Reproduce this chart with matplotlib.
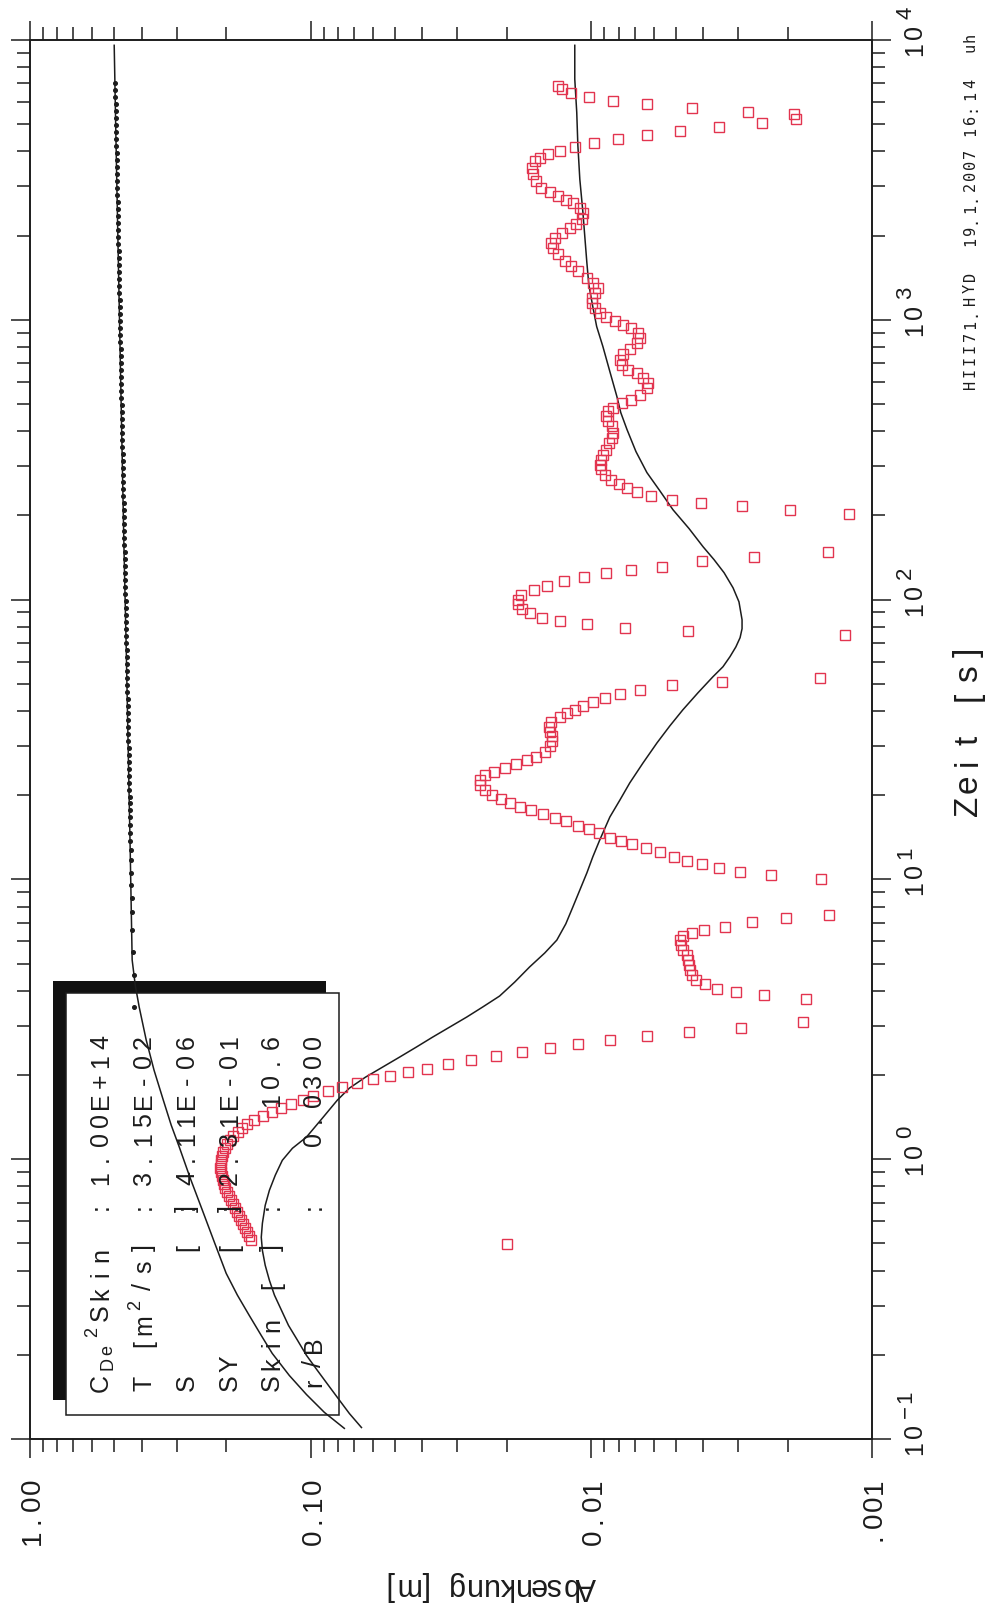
import matplotlib
matplotlib.use("Agg")
import matplotlib.pyplot as plt
import numpy as np
from matplotlib.transforms import IdentityTransform
from matplotlib.patches import Rectangle

W, H = 997, 1611
RED = "#e2344f"
INK = "#1c1c1c"
FONT = ["Liberation Sans", "DejaVu Sans"]
MONO = ["DejaVu Sans Mono"]

# ---- measured drawdown (red squares), log10 of time [s] / drawdown [m]
red_log_t = [
    -0.304,
    # first dip
    -0.290, -0.275, -0.261, -0.247, -0.233, -0.218, -0.204, -0.190, -0.175, -0.161,
    -0.147, -0.132, -0.118, -0.104, -0.089, -0.075, -0.061, -0.047, -0.032, -0.018,
    -0.004, 0.011, 0.025, 0.039, 0.054, 0.068, 0.082, 0.097, 0.111, 0.125, 0.140,
    0.154, 0.168, 0.184, 0.199, 0.213, 0.227, 0.243, 0.258, 0.271, 0.285, 0.298,
    0.311, 0.324, 0.339, 0.353, 0.368, 0.384, 0.398, 0.411, 0.426, 0.440, 0.455,
    0.470, 0.489,
    # 4..8 s
    0.572, 0.586, 0.597, 0.609, 0.625, 0.640, 0.658, 0.676, 0.694, 0.712, 0.730,
    0.748, 0.765, 0.783, 0.796, 0.807, 0.819, 0.831, 0.847, 0.861, 0.874,
    # 10..50 s
    1.000, 1.016, 1.028, 1.040, 1.055, 1.067, 1.081, 1.099, 1.112, 1.125, 1.137,
    1.148, 1.165, 1.179, 1.192, 1.207, 1.220, 1.233, 1.248, 1.260, 1.274, 1.288,
    1.302, 1.320, 1.338, 1.356, 1.374, 1.385, 1.398, 1.413, 1.427, 1.439, 1.457,
    1.475, 1.493, 1.511, 1.528, 1.546, 1.564, 1.582, 1.594, 1.606, 1.620, 1.634,
    1.650, 1.663, 1.678, 1.693, 1.705, 1.719,
    # 75..150 s
    1.874, 1.886, 1.898, 1.913, 1.925, 1.936, 1.952, 1.966, 1.984, 2.000, 2.017,
    2.033, 2.050, 2.065, 2.081, 2.094, 2.107, 2.118, 2.137, 2.151, 2.169,
    # 200..7000 s
    2.307, 2.319, 2.333, 2.345, 2.357, 2.372, 2.385, 2.399, 2.413, 2.429, 2.447,
    2.465, 2.482, 2.500, 2.518, 2.536, 2.560, 2.578, 2.596, 2.619, 2.637, 2.655,
    2.673, 2.685, 2.703, 2.715, 2.733, 2.757, 2.775, 2.793, 2.810, 2.822, 2.840,
    2.858, 2.876, 2.894, 2.918, 2.936, 2.954, 2.971, 2.983, 2.995, 3.011, 3.025,
    3.043, 3.061, 3.079, 3.097, 3.114, 3.132, 3.150, 3.174, 3.192, 3.210, 3.234,
    3.258, 3.275, 3.293, 3.311, 3.329, 3.341, 3.359, 3.383, 3.401, 3.416, 3.428,
    3.442, 3.456, 3.472, 3.496, 3.520, 3.544, 3.567, 3.580, 3.591, 3.603, 3.617,
    3.631, 3.645, 3.660, 3.675, 3.689, 3.705, 3.719, 3.734, 3.744, 3.756, 3.770,
    3.782, 3.798, 3.809, 3.824, 3.836,
]
red_log_s = [
    -1.698,
    -0.786, -0.780, -0.774, -0.766, -0.759, -0.752, -0.745, -0.738, -0.730, -0.723,
    -0.716, -0.709, -0.702, -0.694, -0.690, -0.686, -0.683, -0.680, -0.678, -0.679,
    -0.680, -0.683, -0.688, -0.694, -0.702, -0.713, -0.725, -0.740, -0.754, -0.774, -0.797,
    -0.831, -0.863, -0.896, -0.931, -0.971, -1.010, -1.063, -1.113, -1.165, -1.221, -1.283,
    -1.346, -1.414, -1.491, -1.570, -1.659, -1.752, -1.852, -1.953, -2.068, -2.198, -2.349,
    -2.533, -2.753,
    -2.765, -2.616, -2.515, -2.448, -2.405, -2.372, -2.357, -2.351, -2.349, -2.345, -2.340,
    -2.327, -2.318, -2.316, -2.327, -2.357, -2.401, -2.475, -2.571, -2.694, -2.847,
    -2.819, -2.639, -2.530, -2.455, -2.394, -2.342, -2.294, -2.244, -2.194, -2.146, -2.104,
    -2.066, -2.028, -1.991, -1.953, -1.911, -1.870, -1.828, -1.784, -1.745, -1.709, -1.677,
    -1.647, -1.620, -1.605, -1.602, -1.620, -1.652, -1.691, -1.733, -1.771, -1.804, -1.834,
    -1.852, -1.861, -1.861, -1.854, -1.849, -1.858, -1.887, -1.914, -1.943, -1.971, -2.006,
    -2.048, -2.102, -2.175, -2.288, -2.465, -2.813,
    -2.904, -2.343, -2.119, -1.983, -1.890, -1.823, -1.783, -1.754, -1.739, -1.739, -1.751,
    -1.795, -1.842, -1.902, -1.973, -2.052, -2.143, -2.252, -2.395, -2.581, -2.845,
    -2.918, -2.708, -2.536, -2.389, -2.286, -2.211, -2.161, -2.128, -2.098, -2.069, -2.048,
    -2.036, -2.030, -2.034, -2.042, -2.054, -2.063, -2.072, -2.076, -2.072, -2.060, -2.054,
    -2.060, -2.078, -2.108, -2.143, -2.173, -2.199, -2.203, -2.185, -2.161, -2.131, -2.108,
    -2.102, -2.113, -2.137, -2.161, -2.173, -2.167, -2.143, -2.113, -2.084, -2.054, -2.030,
    -2.012, -2.004, -2.001, -2.012, -2.024, -2.006, -1.983, -1.953, -1.929, -1.905, -1.881,
    -1.864, -1.858, -1.870, -1.894, -1.923, -1.947, -1.965, -1.971, -1.959, -1.935, -1.911,
    -1.881, -1.852, -1.822, -1.804, -1.792, -1.790, -1.798, -1.816, -1.846, -1.887, -1.941,
    -2.009, -2.095, -2.197, -2.316, -2.456, -2.609, -2.730, -2.722, -2.559, -2.360, -2.197,
    -2.078, -1.992, -1.929, -1.894, -1.881,
]

# ---- second record (small black dots)
dot_log_t = [
    0.544, 0.658, 0.740, 0.819, 0.884, 0.934, 0.980, 1.023, 1.070, 1.104, 1.137,
    1.167, 1.196, 1.223, 1.248, 1.272, 1.294,
    1.320, 1.345, 1.370, 1.395, 1.420, 1.445, 1.470, 1.495, 1.520, 1.545,
    1.570, 1.595, 1.620, 1.645, 1.670, 1.695, 1.720, 1.745, 1.770, 1.795,
    1.820, 1.845, 1.870, 1.895, 1.920, 1.945, 1.970, 1.995, 2.020, 2.045,
    2.070, 2.095, 2.120, 2.145, 2.170, 2.195, 2.220, 2.245, 2.270, 2.295,
    2.320, 2.345, 2.370, 2.395, 2.420, 2.445, 2.470, 2.495, 2.520, 2.545,
    2.570, 2.595, 2.620, 2.645, 2.670, 2.695, 2.720, 2.745, 2.770, 2.795,
    2.820, 2.845, 2.870, 2.895, 2.920, 2.945, 2.970, 2.995, 3.020, 3.045,
    3.070, 3.095, 3.120, 3.145, 3.170, 3.195, 3.220, 3.245, 3.270, 3.295,
    3.320, 3.345, 3.370, 3.395, 3.420, 3.445, 3.470, 3.495, 3.520, 3.545,
    3.570, 3.595, 3.620, 3.645, 3.670, 3.695, 3.720, 3.745, 3.770, 3.795,
    3.820, 3.845,
]
dot_log_s = [
    -0.371, -0.369, -0.366, -0.365, -0.363, -0.362, -0.361, -0.360, -0.359, -0.359, -0.358,
    -0.358, -0.357, -0.356, -0.356, -0.355, -0.355,
    -0.3540, -0.3535, -0.3530, -0.3525, -0.3520, -0.3515, -0.3510, -0.3505, -0.3500, -0.3495,
    -0.3490, -0.3485, -0.3480, -0.3475, -0.3470, -0.3465, -0.3460, -0.3455, -0.3450, -0.3445,
    -0.3440, -0.3435, -0.3430, -0.3425, -0.3420, -0.3415, -0.3410, -0.3405, -0.3400, -0.3395,
    -0.3390, -0.3385, -0.3380, -0.3375, -0.3370, -0.3365, -0.3360, -0.3355, -0.3350, -0.3345,
    -0.3340, -0.3335, -0.3330, -0.3325, -0.3320, -0.3315, -0.3310, -0.3305, -0.3300, -0.3295,
    -0.3290, -0.3285, -0.3280, -0.3275, -0.3270, -0.3265, -0.3260, -0.3255, -0.3250, -0.3245,
    -0.3240, -0.3235, -0.3230, -0.3225, -0.3220, -0.3215, -0.3210, -0.3205, -0.3200, -0.3195,
    -0.3190, -0.3185, -0.3180, -0.3175, -0.3170, -0.3165, -0.3160, -0.3155, -0.3150, -0.3145,
    -0.3140, -0.3135, -0.3130, -0.3125, -0.3120, -0.3115, -0.3110, -0.3105, -0.3100, -0.3095,
    -0.3090, -0.3085, -0.3080, -0.3075, -0.3070, -0.3065, -0.3060, -0.3055, -0.3050, -0.3045,
    -0.3040, -0.3035,
]

# ---- type curves (solid black)
fitA_log_t = [3.981, 3.609, 3.251, 2.894, 2.536, 2.178, 1.821, 1.463, 1.105, 0.712,
              0.622, 0.544, 0.426, 0.318, 0.211, 0.122, 0.043, -0.068, -0.182, -0.297,
              -0.408, -0.486, -0.558, -0.630, -0.694, -0.773, -0.841, -0.905, -0.962]
fitA_log_s = [-0.300, -0.307, -0.314, -0.321, -0.328, -0.335, -0.343, -0.350, -0.357,
              -0.364, -0.375, -0.389, -0.414, -0.442, -0.475, -0.503, -0.532, -0.571,
              -0.614, -0.657, -0.699, -0.739, -0.781, -0.824, -0.863, -0.924, -0.985,
              -1.049, -1.120]
fitB_log_t = [-0.959, -0.909, -0.862, -0.808, -0.755, -0.701, -0.647, -0.594, -0.540,
              -0.486, -0.433, -0.379, -0.326, -0.279, -0.229, -0.165, -0.111, -0.057,
              -0.004, 0.039, 0.079, 0.147, 0.211, 0.254, 0.293, 0.329, 0.365, 0.401,
              0.436, 0.472, 0.508, 0.544, 0.583, 0.633, 0.687, 0.737, 0.783, 0.841,
              0.901, 0.962, 1.023, 1.080, 1.141, 1.223, 1.284, 1.345, 1.416, 1.488,
              1.549, 1.606, 1.667, 1.724, 1.760, 1.796, 1.831, 1.864, 1.896, 1.928,
              1.992, 2.042, 2.096, 2.143, 2.189, 2.254, 2.321, 2.389, 2.454, 2.529,
              2.608, 2.668, 2.726, 2.815, 2.905, 2.976, 3.048, 3.126, 3.205, 3.294,
              3.384, 3.502, 3.624, 3.742, 3.860, 3.981]
fitB_log_s = [-1.181, -1.138, -1.103, -1.063, -1.024, -0.985, -0.953, -0.921, -0.896,
              -0.871, -0.853, -0.838, -0.828, -0.824, -0.828, -0.838, -0.853, -0.874,
              -0.899, -0.935, -0.985, -1.042, -1.095, -1.138, -1.195, -1.256, -1.317,
              -1.377, -1.434, -1.495, -1.556, -1.613, -1.673, -1.727, -1.780, -1.834,
              -1.877, -1.909, -1.934, -1.959, -1.984, -2.005, -2.030, -2.066, -2.102,
              -2.137, -2.184, -2.234, -2.280, -2.326, -2.380, -2.433, -2.469, -2.494,
              -2.515, -2.530, -2.537, -2.537, -2.526, -2.505, -2.473, -2.437, -2.398,
              -2.348, -2.291, -2.244, -2.198, -2.159, -2.127, -2.105, -2.091, -2.066,
              -2.041, -2.019, -2.005, -1.991, -1.984, -1.977, -1.970, -1.959, -1.952,
              -1.948, -1.941, -1.941]

# ---- axis ticks / legend text
s_ticks = [1.0, 0.1, 0.01, 0.001]
s_labels = ["1.00", "0.10", "0.01", ".001"]
t_exps = [-1, 0, 1, 2, 3, 4]
legend_rows = [
    ("C", ":", "1.00E+14"),
    ("T", ":", "3.15E-02"),
    ("S      [ ]", ":", "4.11E-06"),
    ("SY     [ ]", ":", "2.31E-01"),
    ("Skin [ ]", ":", "10.6"),
    ("r/B", ":", "0.0300"),
]
footer = [("HIII71.HYD", 384, 12), ("19.1.2007", 241, 11), ("16:14", 131, 12), ("uh", 47, 10)]

fig = plt.figure(figsize=(W / 100, H / 100), dpi=100)
L, R, T, B = 30, 872, 40, 1439
ax = fig.add_axes([L / W, 1 - B / H, (R - L) / W, (B - T) / H])
ax.set_xscale("log")
ax.set_yscale("log")
ax.set_xlim(1.0, 0.001)
ax.set_ylim(0.1, 1e4)
ax.tick_params(which="both", direction="out", top=True, bottom=True, left=True,
               right=True, labelbottom=False, labelleft=False, colors=INK)
ax.tick_params(which="major", length=13.5, width=1.1)
ax.tick_params(which="minor", length=9.5, width=1.1)
for sp in ax.spines.values():
    sp.set_linewidth(1.4)
    sp.set_color(INK)


def px(x0, y0):
    """image pixel (top-left origin) -> display coords"""
    return x0, H - y0


def put(x, y, text, pitch, size, rot=90, family=FONT, **kw):
    # plotter style: one glyph per fixed cell; (x, y) = baseline centre of 1st glyph
    for i, ch in enumerate(text):
        if ch == " ":
            continue
        cx, cy = (x, y - i * pitch) if rot == 90 else (x - i * pitch, y)
        fig.text(cx, H - cy, ch, transform=IdentityTransform(), rotation=rot,
                 rotation_mode="anchor", ha="center", va="baseline",
                 fontsize=size, family=family, color=INK, **kw)


# legend box with its black shadow
ax.add_patch(Rectangle(px(53, 1400), 273, 419, transform=IdentityTransform(),
                       facecolor="#111111", edgecolor="none", zorder=1.2))
ax.add_patch(Rectangle(px(66, 1415), 273, 422, transform=IdentityTransform(),
                       facecolor="white", edgecolor=INK, lw=1.1, zorder=1.3))

ax.plot(10 ** np.array(fitA_log_s), 10 ** np.array(fitA_log_t), color=INK, lw=1.1, zorder=2)
ax.plot(10 ** np.array(fitB_log_s), 10 ** np.array(fitB_log_t), color=INK, lw=1.1, zorder=2)
ax.plot(10 ** np.array(dot_log_s), 10 ** np.array(dot_log_t), ls="none", marker="o",
        ms=2.6, color=INK, zorder=3)
ax.plot(10 ** np.array(red_log_s), 10 ** np.array(red_log_t), ls="none", marker="s",
        ms=7.0, mfc="none", mec=RED, mew=1.0, zorder=4)

# tick labels
for v, lab in zip(s_ticks, s_labels):
    xd = ax.transData.transform((v, 1.0))[0]
    put(xd + 10, 1537, lab, 17, 20)
for e in t_exps:
    yi = H - ax.transData.transform((0.5, 10.0 ** e))[1]
    put(922, yi + 9, "10", 17, 18)
    put(911, yi - 27, str(e).replace("-", "\u2212"), 15, 16)

put(977, 806, "Zeit [s]", 22, 24)
put(586, 1578, "Absenkung [m]", 16.3, 22, rot=180)

# legend text
rows_x = [108, 151, 194, 237, 279, 321]
pitch = 19.4
for xb, (lab, colon, val) in zip(rows_x, legend_rows):
    put(xb, 1383, lab, pitch, 18)
    put(xb, 1207, colon, pitch, 18)
    put(xb, 1042 + (len(val) - 1) * pitch, val, pitch, 18)
# subscripts / superscripts of the first two rows
put(112, 1364, "De", 14, 13)
put(97, 1332, "2", 14, 13)
put(108, 1313, "Skin", pitch, 18)
put(151, 1344, "[m", pitch, 18)
put(140, 1305, "2", 14, 13)
put(151, 1286, "/s]", pitch, 18)

for txt, y0, p in footer:
    put(975, y0, txt, p, 11, family=MONO)

fig.savefig("out.png", dpi=100)
